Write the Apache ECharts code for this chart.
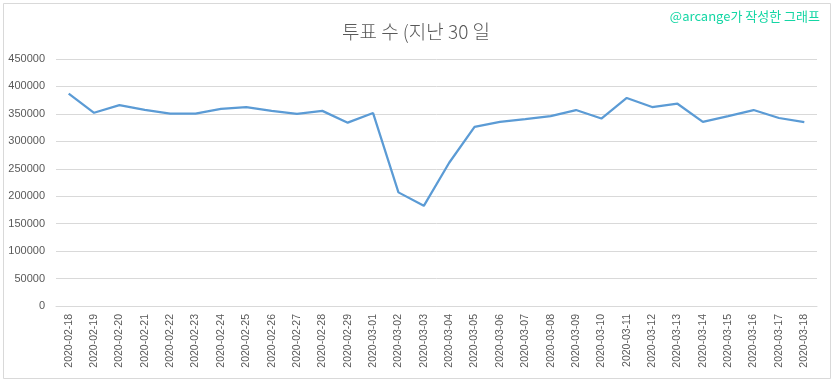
<!DOCTYPE html>
<html>
<head>
<meta charset="utf-8">
<script src="https://cdn.jsdelivr.net/npm/echarts@6/dist/echarts.min.js"></script>
<style>html,body{margin:0;padding:0;background:#fff;}#c{width:832px;height:379px;}</style>
</head>
<body>
<div id="c"></div>
<script>
const categories = ['2020-02-18','2020-02-19','2020-02-20','2020-02-21','2020-02-22','2020-02-23','2020-02-24','2020-02-25','2020-02-26','2020-02-27','2020-02-28','2020-02-29','2020-03-01','2020-03-02','2020-03-03','2020-03-04','2020-03-05','2020-03-06','2020-03-07','2020-03-08','2020-03-09','2020-03-10','2020-03-11','2020-03-12','2020-03-13','2020-03-14','2020-03-15','2020-03-16','2020-03-17','2020-03-18'];
const votes = [387000,352000,366000,357500,350500,350500,359000,362500,355500,350000,355500,334000,351500,207000,182500,261000,326500,335500,340500,346000,357000,341500,379000,362500,368500,335500,346000,357000,342500,335000];
const titleText = '투표 수 (지난 30 일';
const watermark = '@arcange가 작성한 그래프';

const chart = echarts.init(document.getElementById('c'), null, {renderer: 'canvas'});
chart.setOption({
  animation: false,
  backgroundColor: '#fff',
  title: {
    text: titleText, left: 'center', top: 17,
    textStyle: {color: '#595959', fontSize: 19, fontWeight: 300, fontFamily: 'Noto Sans CJK KR'}
  },
  graphic: [
    {type: 'rect', left: 1, top: 1, shape: {width: 827, height: 375}, style: {fill: 'none', stroke: '#d9d9d9', lineWidth: 1}, silent: true},
    {type: 'text', right: 12, top: 10, style: {text: watermark, fill: '#14d6a4', font: '13px "Noto Sans CJK KR"'}}
  ],
  grid: {left: 56, right: 15, top: 59, bottom: 73},
  xAxis: {
    type: 'category', data: categories, boundaryGap: true,
    axisLine: {show: true, lineStyle: {color: '#d9d9d9'}},
    axisTick: {show: false},
    axisLabel: {rotate: 90, color: '#595959', fontSize: 10.5, fontFamily: 'Liberation Sans', margin: 8, interval: 0}
  },
  yAxis: {
    type: 'value', min: 0, max: 450000, interval: 50000,
    axisLine: {show: false}, axisTick: {show: false},
    splitLine: {lineStyle: {color: '#d9d9d9'}},
    axisLabel: {color: '#595959', fontSize: 11, fontFamily: 'Liberation Sans', margin: 11, formatter: v => String(v)}
  },
  series: [{
    type: 'line', data: votes, symbol: 'none',
    lineStyle: {color: '#5b9bd5', width: 2.25}
  }]
});
</script>
</body>
</html>
